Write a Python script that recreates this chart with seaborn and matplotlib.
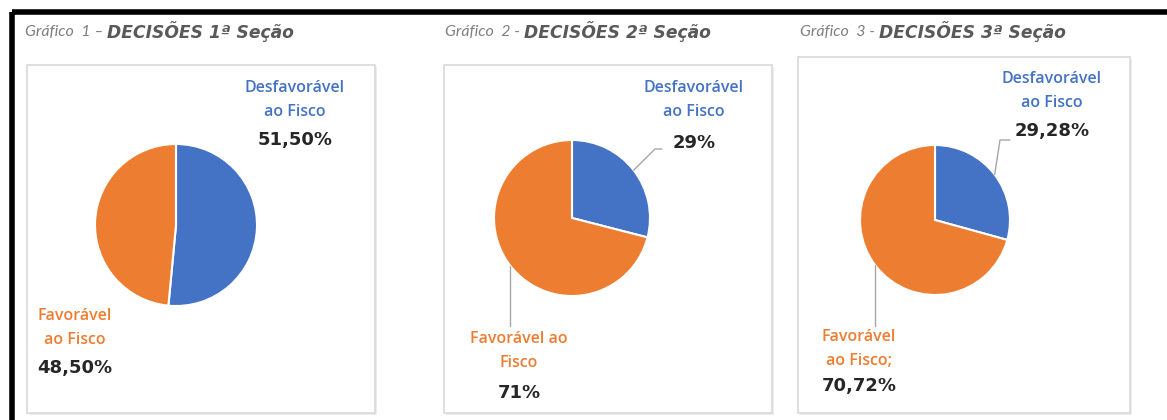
import matplotlib.pyplot as plt
import numpy as np
import seaborn as sns
from matplotlib.patches import Rectangle

# Data
sections = ["1ª Seção", "2ª Seção", "3ª Seção"]
chart_numbers = ["1 –", "2 -", "3 -"]
desfavoravel = [51.50, 29.0, 29.28]
favoravel = [48.50, 71.0, 70.72]
desf_pct_labels = ["51,50%", "29%", "29,28%"]
fav_pct_labels = ["48,50%", "71%", "70,72%"]
desf_names = ["Desfavorável\nao Fisco", "Desfavorável\nao Fisco", "Desfavorável\nao Fisco"]
fav_names = ["Favorável\nao Fisco", "Favorável ao\nFisco", "Favorável\nao Fisco;"]

W, H = 1167, 420
sns.set_theme(style="white")
plt.rcParams['font.family'] = ['Open Sans', 'DejaVu Sans']
colors = sns.color_palette(["#4472C4", "#ED7D31"])

fig = plt.figure(figsize=(W / 100, H / 100), dpi=100)
ax = fig.add_axes([0, 0, 1, 1])


def py(y):
    # top-down pixel row -> axes y
    return H - y


# layout (pixels, from top-left)
panels = [(27, 65, 348, 348), (444, 65, 328, 348), (798, 57, 332, 356)]
title_pos = [(25, 32), (445, 32), (800, 32)]
pie_geom = [(176, 225, 81), (572, 218, 78), (935, 220, 75)]
desf_text = [(295, 100, 140), (694, 100, 143), (1052, 91, 131)]
fav_text = [(75, 328, 368), (519, 351, 393), (859, 349, 386)]
leader = [False, True, True]
desf_leader_end = [None, (655, 149, 662), (1000, 140, 1010)]
fav_leader_end = [None, 326, 326]

# black frame of the screenshot
ax.plot([12, W], [py(12), py(12)], color="black", lw=4, solid_capstyle="butt")
ax.plot([12, 12], [py(12), 0], color="black", lw=4, solid_capstyle="butt")

for i in range(3):
    x0, y0, w, h = panels[i]
    ax.add_patch(Rectangle((x0 + 2, py(y0 + h) - 2), w, h, facecolor="#EDEDED",
                           edgecolor="none", zorder=0))
    ax.add_patch(Rectangle((x0, py(y0 + h)), w, h, facecolor="white",
                           edgecolor="#D9D9D9", lw=1.2, zorder=1))

    tx, ty = title_pos[i]
    t1 = ax.text(tx, py(ty), f"Gráfico  {chart_numbers[i]} ", fontsize=11.5,
                 family=["Lato", "DejaVu Sans"], style="italic", color="#7F7F7F",
                 va="center", ha="left", zorder=3)
    ax.annotate(f"DECISÕES {sections[i]}", xy=(1, 0.5), xycoords=t1, fontsize=12.3,
                family=["DejaVu Sans"], style="italic", fontweight="bold",
                color="#595959", va="center", ha="left", zorder=3)

    cx, cy, r = pie_geom[i]
    wedges, _ = ax.pie([desfavoravel[i], favoravel[i]], colors=colors, startangle=90,
                       counterclock=False, center=(cx, py(cy)), radius=r,
                       wedgeprops=dict(edgecolor="white", linewidth=1.5, zorder=2))

    dx, dy_name, dy_pct = desf_text[i]
    ax.text(dx, py(dy_name), desf_names[i], color="#4472C4", fontsize=11.5,
            fontweight="semibold", ha="center", va="center", linespacing=1.6, zorder=3)
    ax.text(dx, py(dy_pct), desf_pct_labels[i], color="#262626", fontsize=13,
            family=["DejaVu Sans"], fontweight="bold", ha="center", va="center", zorder=3)

    fx, fy_name, fy_pct = fav_text[i]
    ax.text(fx, py(fy_name), fav_names[i], color="#ED7D31", fontsize=11.5,
            fontweight="semibold", ha="center", va="center", linespacing=1.6, zorder=3)
    ax.text(fx, py(fy_pct), fav_pct_labels[i], color="#262626", fontsize=13,
            family=["DejaVu Sans"], fontweight="bold", ha="center", va="center", zorder=3)

    if leader[i]:
        # blue leader from the middle of the wedge edge
        wb = wedges[0]
        ang = np.deg2rad((wb.theta1 + wb.theta2) / 2)
        sx, sy = wb.center[0] + wb.r * np.cos(ang), wb.center[1] + wb.r * np.sin(ang)
        ex, ey, hx = desf_leader_end[i]
        ax.plot([sx, ex, hx], [sy, py(ey), py(ey)], color="#A6A6A6", lw=1, zorder=3)
        # orange leader straight down
        wo = wedges[1]
        ang = np.deg2rad((wo.theta1 + wo.theta2) / 2)
        sx, sy = wo.center[0] + wo.r * np.cos(ang), wo.center[1] + wo.r * np.sin(ang)
        ax.plot([sx, sx], [sy, py(fav_leader_end[i])], color="#A6A6A6", lw=1, zorder=3)

ax.set_xlim(0, W)
ax.set_ylim(0, H)
ax.set_aspect("auto")
ax.axis("off")

fig.savefig("out.png", dpi=100)
